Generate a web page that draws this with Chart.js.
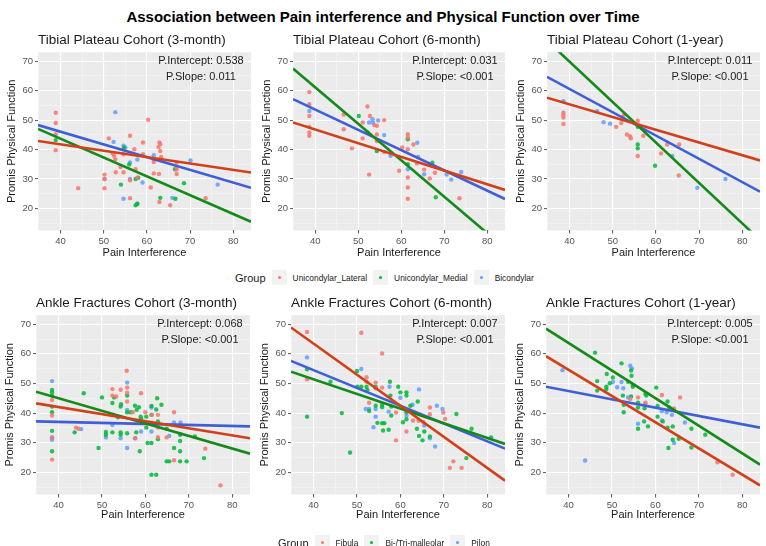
<!DOCTYPE html>
<html>
<head>
<meta charset="utf-8">
<script src="https://cdn.jsdelivr.net/npm/chart.js@4.4.1/dist/chart.umd.min.js"></script>
<style>
  body { margin: 0; background: #fff; font-family: "Liberation Sans", Arial, sans-serif; }
  #wrap { position: relative; width: 766px; height: 546px; overflow: hidden; }
  #wrap canvas { position: absolute; }
  #mainTitle { position: absolute; left: 0; width: 766px; top: 8px; text-align: center; font-weight: bold; font-size: 15px; color: #000; }
  .legend { position: absolute; display: flex; align-items: center; color: #1a1a1a; white-space: nowrap; }
  .legend .head { font-size: 11px; margin-right: 6px; }
  .legend .key { width: 15px; height: 15px; background: #f2f2f2; position: relative; margin-right: 6px; }
  .legend .key i { position: absolute; left: 6px; top: 6px; width: 3px; height: 3px; border-radius: 50%; }
  .legend .lab { font-size: 8.4px; margin-right: 6px; }
</style>
</head>
<body>
<div id="wrap">
  <div id="mainTitle">Association between Pain interference and Physical Function over Time</div>
  <canvas id="c1"></canvas><canvas id="c2"></canvas><canvas id="c3"></canvas>
  <canvas id="c4"></canvas><canvas id="c5"></canvas><canvas id="c6"></canvas>
  <div class="legend" id="legTop" style="left:235px; top:270px;"></div>
  <div class="legend" id="legBottom" style="left:278px; top:535px;"></div>
</div>
<script>
// axis limits shared by all panels
const X_MIN = 34.8, X_MAX = 84.1;
const Y_MIN = 12.55, Y_MAX = 73.05;

const tibialGroups = ['Unicondylar_Lateral', 'Unicondylar_Medial', 'Bicondylar'];
const ankleGroups = ['Fibula', 'Bi-/Tri-malleolar', 'Pilon'];

// Tibial plateau, 3 months  [pain interference, physical function]
const tp3Lateral = [[38.9,52.5],[38.9,49.0],[38.9,45.2],[38.9,39.8],[44.1,26.9],[50.2,31.5],[50.2,30.0],[50.2,26.9],[51.2,43.8],[52.1,38.7],[52.4,37.9],[52.7,36.7],[52.8,32.3],[53.9,34.1],[54.6,38.4],[54.6,32.3],[56.1,44.7],[56.1,29.6],[56.1,23.5],[57.1,40.1],[57.4,33.3],[57.8,30.4],[59.1,42.4],[59.1,38.4],[60.3,50.1],[60.9,27.1],[61.6,31.9],[61.6,36.6],[61.6,35.8],[62.7,40.9],[62.9,42.4],[63.1,41.8],[63.1,39.5],[63.1,36.6],[62.8,31.7],[62.9,22.2],[63.3,37.5],[65.4,21.1],[66.9,35.5],[66.9,33.3],[66.9,31.7],[73.6,23.5]];
const tp3Medial = [[38.9,43.2],[54.0,28.1],[54.7,40.6],[55.9,34.9],[57.4,21.1],[57.8,21.5],[57.4,30.0],[58.0,30.4],[63.1,23.6],[66.5,33.3],[66.6,23.3],[68.6,28.6]];
const tp3Bicondylar = [[52.7,52.7],[52.3,42.6],[54.6,41.3],[55.0,40.7],[56.1,35.6],[54.6,23.3],[56.1,30.0],[57.8,21.7],[57.8,36.6],[59.0,28.8],[61.6,38.1],[65.9,23.6],[70.1,36.3],[76.4,28.1],[50.2,30.0]];
// fitted line: y at X_MIN, y at X_MAX (lateral, medial, bicondylar)
const tp3Fit = [[42.9,32.2],[47.0,15.5],[48.3,27.0]];

// Tibial plateau, 6 months
const tp6Lateral = [[38.6,59.5],[38.6,55.4],[38.6,51.4],[38.6,47.7],[38.6,45.8],[38.6,44.7],[46.6,51.9],[46.6,46.9],[48.5,40.4],[51.0,49.2],[51.0,43.8],[52.1,54.6],[52.7,51.4],[52.5,31.5],[53.7,48.3],[54.3,48.1],[54.3,45.1],[54.3,42.9],[56.0,50.0],[56.0,39.2],[59.5,32.8],[60.2,40.7],[61.5,45.2],[61.5,44.1],[61.5,40.1],[61.5,30.5],[61.5,27.1],[61.5,23.3],[62.8,41.7],[63.6,35.3],[65.3,33.2],[66.6,30.2],[67.8,32.1],[73.5,23.5]];
const tp6Medial = [[50.1,51.4],[52.1,45.8],[54.3,39.5],[61.5,43.5],[61.5,35.0],[67.2,35.5],[68.0,23.8]];
const tp6Bicondylar = [[38.6,53.1],[52.5,49.2],[53.3,50.3],[54.6,49.9],[53.4,49.1],[56.0,44.9],[57.5,37.9],[61.5,33.3],[63.7,42.3],[63.9,37.5],[65.3,31.6],[70.5,31.5],[71.6,29.8],[73.9,32.4]];
const tp6Fit = [[49.2,26.3],[67.5,6.5],[57.1,23.2]];

// Tibial plateau, 1 year
const tp12Lateral = [[38.6,52.5],[38.6,51.7],[38.6,50.9],[38.6,48.7],[50.8,47.7],[52.0,49.0],[52.3,51.1],[52.7,51.9],[53.3,45.1],[54.0,44.5],[54.2,43.8],[55.8,49.8],[55.8,48.5],[55.8,37.8],[57.1,44.7],[61.2,38.7],[62.6,41.7],[65.4,41.7],[65.3,31.2]];
const tp12Medial = [[55.8,47.7],[55.8,41.7],[55.8,40.4],[59.8,34.5]];
const tp12Bicondylar = [[38.6,56.4],[46.4,53.0],[47.9,49.3],[49.4,48.8],[63.8,37.8],[69.6,27.0],[76.1,30.0]];
const tp12Fit = [[57.6,36.3],[77.0,9.3],[64.7,25.7]];

// Ankle fractures, 3 months
const af3Fibula = [[38.5,44.4],[38.5,39.2],[38.5,31.8],[38.5,24.3],[44.0,35.1],[44.6,34.7],[52.4,48.1],[52.4,45.9],[53.3,45.6],[54.3,47.9],[55.7,54.3],[55.8,48.6],[55.8,46.9],[55.8,43.9],[57.1,40.3],[57.6,31.5],[59.0,46.7],[60.0,40.3],[61.5,39.4],[62.9,39.4],[62.9,36.4],[62.9,35.1],[62.9,31.9],[64.9,31.8],[66.6,40.3],[66.6,24.1],[73.8,28.0],[77.3,15.6]];
const af3Malleolar = [[38.5,47.8],[38.5,47.0],[38.5,45.9],[38.5,42.2],[38.5,40.3],[38.5,34.0],[38.5,27.1],[43.7,33.5],[45.8,46.7],[49.2,28.2],[50.0,45.3],[50.9,33.6],[50.9,32.7],[52.4,43.4],[52.4,33.5],[52.8,45.3],[53.7,38.6],[54.3,42.2],[54.3,33.5],[54.3,32.7],[54.4,43.0],[55.8,45.9],[55.8,40.3],[55.8,33.2],[56.6,40.3],[57.6,42.5],[58.0,41.1],[57.9,33.5],[58.5,42.0],[58.7,27.1],[58.9,38.8],[59.0,38.0],[60.2,38.8],[60.2,35.1],[60.5,29.9],[61.4,42.4],[61.4,39.4],[61.4,29.9],[61.4,19.2],[62.5,19.2],[62.5,41.2],[62.7,45.0],[62.9,37.2],[62.9,31.2],[63.7,42.8],[64.9,34.7],[64.9,23.7],[65.5,23.7],[66.6,28.2],[68.0,30.6],[68.0,27.1],[68.0,23.7],[69.5,23.7],[71.4,32.1],[73.5,24.8],[68.0,32.7]];
const af3Pilon = [[38.5,50.8],[38.5,31.8],[38.5,31.0],[45.2,34.6],[50.9,31.8],[52.4,36.0],[54.3,31.5],[55.8,50.3],[55.8,41.1],[55.8,28.2],[57.7,31.5],[59.0,33.8],[61.4,41.9],[61.4,33.8],[65.5,32.3],[66.6,36.8],[68.1,36.8],[68.1,32.9],[68.0,36.0]];
const af3Fit = [[43.3,31.5],[47.2,26.3],[37.2,35.5]];

// Ankle fractures, 6 months
const af6Fibula = [[38.5,67.4],[38.5,51.4],[51.0,67.1],[52.2,52.1],[52.2,50.6],[52.8,43.5],[54.3,50.3],[54.3,48.4],[55.8,60.1],[55.8,48.6],[59.0,30.8],[59.0,40.2],[61.4,33.8],[62.9,37.5],[64.2,37.4],[66.8,41.9],[66.8,39.6],[65.3,36.9],[69.9,40.2],[70.3,38.0],[71.4,21.5],[72.2,23.7],[74.1,21.5]];
const af6Malleolar = [[38.5,54.8],[38.5,38.8],[43.9,50.6],[46.5,40.0],[48.4,26.7],[50.0,54.2],[50.1,48.9],[51.0,48.9],[52.2,48.9],[52.4,47.8],[52.8,40.7],[54.3,48.9],[54.3,42.5],[54.7,36.7],[55.8,42.8],[55.8,42.0],[55.8,36.6],[56.0,34.1],[56.3,36.6],[57.3,34.4],[57.6,50.6],[57.7,45.9],[57.9,42.2],[57.9,39.2],[59.5,48.9],[60.0,47.0],[60.6,36.9],[61.4,47.0],[61.4,45.9],[61.4,40.3],[61.4,37.9],[62.3,42.5],[63.8,34.7],[64.0,43.9],[64.3,32.3],[65.1,30.8],[65.5,33.8],[66.8,32.1],[72.9,39.7],[76.4,34.7],[75.2,24.8],[80.9,31.8]];
const af6Pilon = [[38.5,58.8],[51.0,54.9],[52.0,41.4],[52.8,41.4],[53.8,35.2],[54.3,38.8],[54.3,41.4],[57.3,40.5],[57.5,48.9],[60.0,45.2],[61.4,39.2],[62.8,42.8],[64.3,48.0],[65.5,35.8],[66.8,31.5],[68.0,28.7],[68.4,42.5],[69.7,41.4]];
const af6Fit = [[68.9,17.2],[54.0,29.6],[57.6,28.0]];

// Ankle fractures, 1 year
const af12Fibula = [[61.5,46.1],[65.7,45.3],[57.7,43.5],[56.0,45.3],[54.2,44.8],[74.3,23.4],[77.8,19.2],[64.3,41.6]];
const af12Malleolar = [[46.1,60.4],[46.6,50.8],[46.6,47.6],[48.8,53.2],[48.7,48.9],[48.7,48.1],[49.5,50.1],[50.2,52.0],[52.2,56.8],[52.5,45.9],[52.7,42.8],[52.7,40.3],[53.7,50.6],[54.4,54.4],[54.5,52.6],[54.8,49.5],[54.8,48.9],[54.4,45.6],[56.0,43.5],[56.0,41.9],[56.0,34.7],[57.4,37.2],[57.7,46.5],[57.9,45.9],[57.5,41.6],[58.3,35.5],[60.2,48.6],[60.5,42.4],[60.5,38.8],[61.7,37.2],[62.8,43.9],[62.8,35.1],[63.0,28.2],[63.2,41.9],[64.0,35.5],[64.0,31.0],[65.4,31.3],[68.3,34.7],[68.3,28.4],[71.5,32.7]];
const af12Pilon = [[38.6,54.5],[43.8,24.0],[50.2,50.5],[51.2,48.7],[52.2,50.5],[52.6,48.4],[53.7,45.3],[54.2,56.0],[54.6,55.1],[56.0,36.4],[57.7,43.2],[61.5,40.6],[61.5,37.5],[62.6,40.3],[64.3,29.9],[66.8,36.8],[63.8,39.4]];
const af12Fit = [[59.2,15.6],[68.5,22.6],[48.9,35.1]];

const pointColors = ['rgba(248,118,109,0.85)', 'rgba(0,186,56,0.85)', 'rgba(97,156,255,0.85)'];
const legendDots = ['#F8766D', '#00BA38', '#619CFF'];
const lineColors = ['#D2401A', '#138A1A', '#3F5FD8'];

const FONT = '"Liberation Sans", Arial, sans-serif';
Chart.defaults.font.family = FONT;

const panels = [
  { id: 'c1', title: 'Tibial Plateau Cohort (3-month)', pInt: '0.538', pSlope: '0.011', groups: [tp3Lateral, tp3Medial, tp3Bicondylar], fit: tp3Fit, left: 0, top: 28, w: 255, h: 234, xh: 31.6 },
  { id: 'c2', title: 'Tibial Plateau Cohort (6-month)', pInt: '0.031', pSlope: '<0.001', groups: [tp6Lateral, tp6Medial, tp6Bicondylar], fit: tp6Fit, left: 255, top: 28, w: 254, h: 234, xh: 31.6 },
  { id: 'c3', title: 'Tibial Plateau Cohort (1-year)', pInt: '0.011', pSlope: '<0.001', groups: [tp12Lateral, tp12Medial, tp12Bicondylar], fit: tp12Fit, left: 509, top: 28, w: 255, h: 234, xh: 31.6 },
  { id: 'c4', title: 'Ankle Fractures Cohort (3-month)', pInt: '0.068', pSlope: '<0.001', groups: [af3Fibula, af3Malleolar, af3Pilon], fit: af3Fit, left: -2, top: 291, w: 256, h: 233, xh: 29.6 },
  { id: 'c5', title: 'Ankle Fractures Cohort (6-month)', pInt: '0.007', pSlope: '<0.001', groups: [af6Fibula, af6Malleolar, af6Pilon], fit: af6Fit, left: 253, top: 291, w: 256, h: 233, xh: 29.6 },
  { id: 'c6', title: 'Ankle Fractures Cohort (1-year)', pInt: '0.005', pSlope: '<0.001', groups: [af12Fibula, af12Malleolar, af12Pilon], fit: af12Fit, left: 508, top: 291, w: 256, h: 233, xh: 29.6 }
];

// grey panel like ggplot
const panelBg = {
  id: 'panelBg',
  beforeDraw(chart) {
    const { ctx, chartArea: a } = chart;
    ctx.save();
    ctx.fillStyle = '#EBEBEB';
    ctx.fillRect(a.left, a.top, a.right - a.left, a.bottom - a.top);
    ctx.restore();
  }
};

// p-value text in the top right of each panel
const pText = {
  id: 'pText',
  afterDraw(chart, args, opts) {
    const { ctx, chartArea: a } = chart;
    ctx.save();
    ctx.font = '11px ' + FONT;
    ctx.fillStyle = '#1a1a1a';
    ctx.textAlign = 'center';
    ctx.textBaseline = 'middle';
    ctx.fillText('P.Intercept: ' + opts.pInt, a.right - 50, a.top + 9);
    ctx.fillText('P.Slope: ' + opts.pSlope, a.right - 50, a.top + 25);
    ctx.restore();
  }
};

const isMajor = v => Math.abs(v / 10 - Math.round(v / 10)) < 1e-6;

function axis(min, max, titleText, fitFn, titlePad) {
  return {
    type: 'linear',
    min, max,
    afterFit: fitFn,
    border: { display: false },
    grid: {
      color: c => (c.tick && isMajor(c.tick.value)) ? '#FFFFFF' : 'rgba(255,255,255,0.6)',
      lineWidth: c => (c.tick && isMajor(c.tick.value)) ? 1.1 : 0.5,
      tickColor: c => (c.tick && isMajor(c.tick.value)) ? '#666' : 'rgba(0,0,0,0)',
      tickLength: 3
    },
    ticks: {
      stepSize: 5,
      includeBounds: false,
      autoSkip: false,
      maxRotation: 0,
      padding: 2,
      color: '#555',
      font: { size: 9.5 },
      callback: v => isMajor(v) ? Math.round(v) : ''
    },
    title: { display: true, text: titleText, color: '#1a1a1a', font: { size: 11 }, padding: titlePad }
  };
}

panels.forEach(p => {
  const cv = document.getElementById(p.id);
  cv.width = p.w;
  cv.height = p.h;
  cv.style.left = p.left + 'px';
  cv.style.top = p.top + 'px';

  const lineSets = p.fit.map((f, i) => ({
    data: [{ x: X_MIN, y: f[0] }, { x: X_MAX, y: f[1] }],
    showLine: true,
    borderColor: lineColors[i],
    borderWidth: 2.6,
    pointRadius: 0,
    clip: 0,
    order: 0
  }));
  const pointSets = p.groups.map((g, i) => ({
    data: g.map(d => ({ x: d[0], y: d[1] })),
    backgroundColor: pointColors[i],
    borderWidth: 0,
    pointRadius: 2.2,
    clip: 0,
    order: 1
  }));

  new Chart(cv, {
    type: 'scatter',
    data: { datasets: lineSets.concat(pointSets) },
    options: {
      responsive: false,
      animation: false,
      layout: { padding: 0 },
      plugins: {
        legend: { display: false },
        tooltip: { enabled: false },
        title: {
          display: true,
          text: p.title,
          align: 'start',
          fullSize: false,
          color: '#1a1a1a',
          font: { size: 13.5, weight: 'normal' },
          padding: { top: 4, bottom: 4 }
        },
        pText: { pInt: p.pInt, pSlope: p.pSlope }
      },
      scales: {
        x: axis(X_MIN, X_MAX, 'Pain Interference', s => { s.height = p.xh; }, { top: 2, bottom: 2 }),
        y: axis(Y_MIN, Y_MAX, 'Promis Physical Function', s => { s.width = 38; }, { top: 5, bottom: 2 })
      }
    },
    plugins: [panelBg, pText]
  });
});

// shared legends under each row
function buildLegend(el, names) {
  let html = '<span class="head">Group</span>';
  names.forEach((n, i) => {
    html += '<span class="key"><i style="background:' + legendDots[i] + '"></i></span><span class="lab">' + n + '</span>';
  });
  el.innerHTML = html;
}
buildLegend(document.getElementById('legTop'), tibialGroups);
buildLegend(document.getElementById('legBottom'), ankleGroups);
</script>
</body>
</html>
